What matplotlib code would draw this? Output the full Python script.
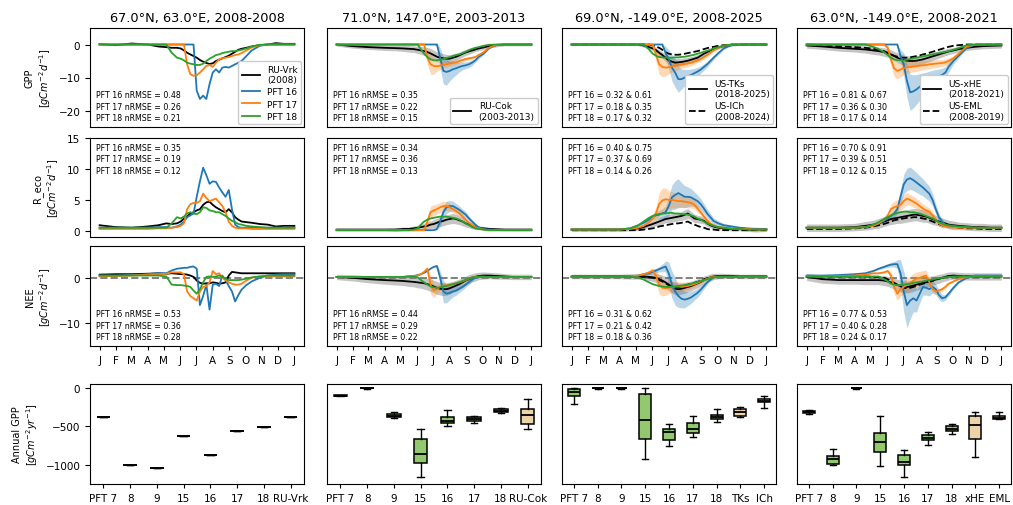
import numpy as np
import matplotlib.pyplot as plt

doy = [0, 30, 60, 90, 110, 125, 135, 145, 152, 158, 164, 170, 176, 182, 188,
       194, 200, 206, 212, 218, 224, 230, 236, 242, 248, 254, 260, 266, 275, 285,
       300, 315, 330, 345, 365]

month_start = [0, 31, 59, 90, 120, 151, 181, 212, 243, 273, 304, 334, 365]
month_lbl = ['J', 'F', 'M', 'A', 'M', 'J', 'J', 'A', 'S', 'O', 'N', 'D', 'J']

titles = ['67.0°N, 63.0°E, 2008-2008', '71.0°N, 147.0°E, 2003-2013',
          '69.0°N, -149.0°E, 2008-2025', '63.0°N, -149.0°E, 2008-2021']

# ---- column 1: RU-Vrk ----
gpp_c1_obs = [0.1, -0.2, 0.3, 0.0, -0.6, -0.8, -1.0, -1.0, -1.2, -1.8, -2.5, -3.0, -3.5, -4.0, -4.7,
              -5.2, -5.6, -5.9, -5.7, -5.0, -4.6, -4.2, -3.8, -3.4, -2.8, -2.2, -1.6, -1.3, -1.0, -0.6,
              -0.2, 0.0, 0.4, 0.2, 0.2]
gpp_c1_p16 = [0, 0, 0, 0, 0, 0, 0, 0, 0, 0, 0, 0, 0, -14.0, -16.5,
              -15.5, -16.5, -12.0, -8.5, -7.5, -8.5, -7.0, -6.8, -7.0, -6.5, -6.0, -5.5, -5.0, -3.5, -1.8,
              -0.4, 0, 0, 0, 0]
gpp_c1_p17 = [0, 0, 0, 0, 0, 0, 0, 0, 0, 0, -6.0, -9.0, -9.5, -9.3, -8.5,
              -7.5, -6.5, -6.2, -6.8, -5.5, -4.5, -4.2, -4.0, -3.8, -3.5, -3.2, -3.0, -2.6, -1.8, -0.9,
              -0.2, 0, 0, 0, 0]
gpp_c1_p18 = [0, 0, 0, 0, 0, 0, -2.5, -4.0, -4.3, -4.8, -5.5, -5.8, -6.0, -6.2, -6.2,
              -5.8, -5.0, -4.3, -3.8, -3.2, -3.0, -2.6, -2.4, -2.2, -2.0, -2.0, -1.8, -1.6, -1.2, -0.6,
              -0.1, 0, 0, 0, 0]

reco_c1_obs = [0.9, 0.6, 0.5, 0.7, 0.9, 1.2, 1.1, 1.2, 1.5, 2.0, 2.3, 2.8, 3.0, 3.3, 3.5,
               4.2, 4.6, 4.7, 4.2, 3.8, 3.5, 3.2, 3.0, 3.5, 3.0, 2.2, 1.8, 1.5, 1.4, 1.3,
               1.1, 1.0, 0.7, 0.8, 0.8]
reco_c1_p16 = [0.5, 0.5, 0.5, 0.5, 0.6, 0.6, 0.5, 0.7, 1.0, 1.5, 2.2, 2.5, 2.8, 5.5, 8.0,
               10.2, 9.0, 7.6, 8.0, 7.9, 7.0, 6.2, 5.5, 6.6, 3.5, 1.0, 0.6, 0.5, 0.5, 0.5,
               0.5, 0.5, 0.5, 0.5, 0.5]
reco_c1_p17 = [0.3, 0.3, 0.3, 0.3, 0.4, 0.4, 0.5, 0.6, 0.8, 1.2, 3.5, 4.3, 4.5, 4.5, 4.8,
               6.0, 5.3, 4.8, 5.0, 5.2, 4.6, 4.0, 3.0, 1.5, 0.8, 0.5, 0.4, 0.4, 0.4, 0.3,
               0.3, 0.3, 0.3, 0.3, 0.3]
reco_c1_p18 = [0.5, 0.5, 0.5, 0.5, 0.5, 0.5, 1.2, 2.2, 2.0, 2.3, 2.8, 3.0, 2.8, 2.7, 3.0,
               3.8, 3.7, 3.3, 3.2, 3.0, 3.0, 2.7, 2.4, 2.0, 1.6, 1.4, 1.1, 1.0, 0.8, 0.7,
               0.6, 0.5, 0.5, 0.5, 0.5]

nee_c1_obs = [0.7, 0.8, 0.8, 0.9, 1.0, 0.9, 1.0, 0.9, 0.8, 0.8, 0.7, 0.5, 0.2, -0.6, -1.1,
              -1.3, -1.2, -1.2, -1.0, -1.1, -1.3, -1.2, -1.0, 0.5, 1.3, 1.2, 1.1, 1.0, 1.0, 1.0,
              1.0, 1.0, 1.0, 1.0, 1.0]
nee_c1_p16 = [0.5, 0.5, 0.6, 0.8, 1.0, 1.0, 1.6, 2.0, 2.1, 2.2, 2.2, 2.4, 2.5, 2.0, -6.0,
              -4.0, -1.5, -7.0, -1.5, -1.3, -1.8, 0.5, -0.5, -1.8, -3.0, -5.2, -3.8, -2.6, -1.6, -0.8,
              0.0, 0.5, 0.7, 0.8, 0.8]
nee_c1_p17 = [0.3, 0.4, 0.5, 0.7, 0.8, 0.9, 1.2, 1.2, 1.2, 0.8, -3.0, -4.0, -4.5, -5.0, -3.0,
              -2.0, -1.8, -1.0, 1.5, 0.8, 1.0, 0.0, -0.5, -1.0, -1.3, -1.5, -1.5, -1.3, -0.6, 0.0,
              0.3, 0.3, 0.3, 0.3, 0.3]
nee_c1_p18 = [0.5, 0.5, 0.5, 0.5, 0.5, 0.3, -1.5, -1.6, -1.6, -1.7, -1.8, -2.0, -2.8, -3.5, -2.5,
              -1.0, 0.2, 0.3, 0.2, 0.3, 0.5, 0.2, -0.2, -0.5, -0.5, -0.5, -0.5, -0.4, -0.2, 0.1,
              0.3, 0.5, 0.5, 0.5, 0.5]

# ---- column 2: RU-Cok ----
gpp_c2_obs = [0.0, -0.5, -0.8, -1.0, -1.1, -1.2, -1.3, -1.4, -1.6, -1.8, -2.0, -2.3, -2.7, -3.2, -3.7,
              -4.0, -4.2, -4.3, -4.3, -4.0, -3.7, -3.3, -2.8, -2.4, -2.1, -1.8, -1.5, -1.2, -0.9, -0.5,
              -0.2, 0.0, 0.0, 0.0, 0.0]
gpp_c2_obs_sd = [0.5, 0.6, 0.7, 0.8, 0.8, 0.9, 1.0, 1.0, 1.1, 1.2, 1.3, 1.4, 1.5, 1.5, 1.5,
                 1.5, 1.4, 1.3, 1.2, 1.2, 1.1, 1.0, 1.0, 0.9, 0.9, 0.8, 0.7, 0.7, 0.6, 0.5,
                 0.5, 0.4, 0.4, 0.4, 0.4]
gpp_c2_p16 = [0, 0, 0, 0, 0, 0, 0, 0, 0, 0, 0, 0, 0, 0, 0,
              -4.0, -8.0, -8.3, -8.0, -7.5, -7.2, -6.8, -6.5, -6.3, -6.0, -5.5, -4.8, -3.8, -2.8, -1.2,
              -0.1, 0, 0, 0, 0]
gpp_c2_p16_sd = [0, 0, 0, 0, 0, 0, 0, 0, 0, 0, 0, 0, 0, 0, 0.5,
                 3.0, 4.0, 4.0, 3.0, 2.5, 2.0, 1.5, 1.2, 1.0, 1.0, 0.8, 0.6, 0.5, 0.4, 0.2,
                 0, 0, 0, 0, 0]
gpp_c2_p17 = [0, 0, 0, 0, 0, 0, 0, 0, 0, 0, 0, -4.0, -6.0, -6.5, -6.6,
              -6.4, -6.2, -6.0, -5.8, -5.6, -5.4, -5.0, -4.7, -4.4, -4.2, -4.0, -3.8, -3.2, -2.4, -1.0,
              -0.1, 0, 0, 0, 0]
gpp_c2_p17_sd = [0, 0, 0, 0, 0, 0, 0, 0, 0, 0, 0, 2.0, 3.0, 2.5, 1.5,
                 1.2, 1.0, 0.9, 0.8, 0.8, 0.7, 0.6, 0.6, 0.5, 0.5, 0.4, 0.4, 0.3, 0.3, 0.2,
                 0, 0, 0, 0, 0]
gpp_c2_p18 = [0, 0, 0, 0, 0, 0, 0, 0, 0, -1.5, -2.8, -3.8, -4.5, -4.8, -4.8,
              -4.6, -4.4, -4.1, -3.8, -3.5, -3.2, -3.0, -2.6, -2.2, -1.7, -1.3, -1.0, -0.8, -0.4, -0.1,
              0, 0, 0, 0, 0]

reco_c2_obs = [0.2, 0.2, 0.2, 0.2, 0.2, 0.3, 0.3, 0.4, 0.5, 0.6, 0.7, 0.8, 1.0, 1.1, 1.3,
               1.5, 1.6, 1.8, 1.9, 2.0, 1.9, 1.7, 1.5, 1.2, 1.0, 0.8, 0.6, 0.5, 0.4, 0.3,
               0.25, 0.2, 0.2, 0.2, 0.2]
reco_c2_obs_sd = [0.2, 0.2, 0.2, 0.2, 0.3, 0.3, 0.3, 0.4, 0.4, 0.5, 0.5, 0.6, 0.6, 0.7, 0.7,
                  0.8, 0.8, 0.8, 0.8, 0.8, 0.8, 0.7, 0.7, 0.6, 0.5, 0.5, 0.4, 0.3, 0.3, 0.3,
                  0.2, 0.2, 0.2, 0.2, 0.2]
reco_c2_p16 = [0.1, 0.1, 0.1, 0.1, 0.1, 0.1, 0.1, 0.1, 0.1, 0.1, 0.1, 0.1, 0.1, 0.1, 0.3,
               1.5, 3.0, 3.8, 4.0, 4.0, 3.7, 3.4, 3.0, 2.6, 2.0, 1.5, 1.0, 0.6, 0.3, 0.2,
               0.1, 0.1, 0.1, 0.1, 0.1]
reco_c2_p16_sd = [0, 0, 0, 0, 0, 0, 0, 0, 0, 0, 0, 0, 0, 0, 0.2,
                  0.8, 1.0, 1.0, 0.9, 0.8, 0.7, 0.6, 0.5, 0.5, 0.4, 0.3, 0.2, 0.1, 0.1, 0,
                  0, 0, 0, 0, 0]
reco_c2_p17 = [0.1, 0.1, 0.1, 0.1, 0.1, 0.1, 0.1, 0.1, 0.1, 0.1, 0.1, 1.5, 3.0, 3.3, 3.5,
               3.8, 4.0, 4.0, 3.8, 3.5, 3.2, 2.8, 2.3, 1.8, 1.3, 0.9, 0.6, 0.4, 0.2, 0.1,
               0.1, 0.1, 0.1, 0.1, 0.1]
reco_c2_p17_sd = [0, 0, 0, 0, 0, 0, 0, 0, 0, 0, 0, 0.8, 1.0, 0.9, 0.8,
                  0.8, 0.8, 0.7, 0.6, 0.6, 0.5, 0.5, 0.4, 0.3, 0.3, 0.2, 0.1, 0.1, 0, 0,
                  0, 0, 0, 0, 0]
reco_c2_p18 = [0.1, 0.1, 0.1, 0.1, 0.1, 0.1, 0.1, 0.2, 0.4, 1.0, 1.5, 1.8, 2.0, 2.1, 2.2,
               2.3, 2.3, 2.3, 2.2, 2.1, 2.0, 1.8, 1.5, 1.2, 0.9, 0.6, 0.4, 0.3, 0.2, 0.1,
               0.1, 0.1, 0.1, 0.1, 0.1]

nee_c2_obs = [0.2, 0.0, -0.3, -0.5, -0.6, -0.7, -0.8, -0.9, -1.0, -1.1, -1.2, -1.4, -1.6, -1.9, -2.2,
              -2.4, -2.5, -2.5, -2.3, -2.0, -1.7, -1.4, -1.0, -0.6, -0.3, 0.0, 0.2, 0.4, 0.5, 0.5,
              0.4, 0.3, 0.2, 0.2, 0.2]
nee_c2_obs_sd = [0.6, 0.7, 0.8, 0.9, 1.0, 1.0, 1.1, 1.1, 1.2, 1.2, 1.3, 1.3, 1.4, 1.4, 1.4,
                 1.4, 1.4, 1.3, 1.3, 1.2, 1.2, 1.1, 1.1, 1.0, 1.0, 0.9, 0.9, 0.8, 0.8, 0.7,
                 0.7, 0.6, 0.6, 0.6, 0.6]
nee_c2_p16 = [0.2, 0.2, 0.2, 0.2, 0.2, 0.2, 0.3, 0.4, 0.6, 0.8, 1.1, 1.5, 2.0, 2.4, 2.6,
              0.0, -3.0, -3.5, -3.3, -3.0, -2.8, -2.4, -2.0, -1.5, -0.9, -0.4, 0.1, 0.3, 0.3, 0.2,
              0.2, 0.2, 0.2, 0.2, 0.2]
nee_c2_p16_sd = [0, 0, 0, 0, 0, 0, 0, 0, 0, 0, 0, 0, 0, 0, 0.3,
                 1.5, 2.5, 2.0, 1.5, 1.2, 1.0, 0.8, 0.7, 0.6, 0.5, 0.4, 0.2, 0.1, 0, 0,
                 0, 0, 0, 0, 0]
nee_c2_p17 = [0.2, 0.2, 0.2, 0.2, 0.2, 0.2, 0.3, 0.4, 0.5, 0.8, 1.3, 2.0, -1.5, -2.8, -2.5,
              -2.0, -1.8, -1.6, -1.5, -1.4, -1.2, -1.0, -0.8, -0.5, -0.2, 0.1, 0.2, 0.2, 0.2, 0.2,
              0.2, 0.2, 0.2, 0.2, 0.2]
nee_c2_p17_sd = [0, 0, 0, 0, 0, 0, 0, 0, 0, 0, 0, 0.5, 2.0, 1.5, 1.0,
                 0.8, 0.7, 0.6, 0.5, 0.5, 0.4, 0.4, 0.3, 0.2, 0.1, 0, 0, 0, 0, 0,
                 0, 0, 0, 0, 0]
nee_c2_p18 = [0.2, 0.2, 0.2, 0.2, 0.2, 0.2, 0.3, 0.3, 0.1, -0.5, -1.0, -1.5, -1.9, -2.1, -2.2,
              -2.1, -1.9, -1.8, -1.6, -1.4, -1.2, -1.0, -0.7, -0.4, -0.1, 0.1, 0.2, 0.2, 0.2, 0.2,
              0.2, 0.2, 0.2, 0.2, 0.2]

# ---- column 3: US-TKs (solid) and US-ICh (dashed) ----
gpp_c3_obs = [0, 0, 0, 0, 0, 0, -0.3, -0.8, -1.2, -1.7, -2.5, -3.2, -4.0, -4.8, -5.2,
              -5.5, -5.4, -5.3, -5.1, -4.9, -4.6, -4.3, -4.0, -3.4, -2.8, -2.3, -1.8, -1.3, -0.9, -0.5,
              -0.2, 0, 0, 0, 0]
gpp_c3_obs2 = [0, 0, 0, 0, 0, 0, 0, 0, -0.3, -0.6, -1.0, -1.6, -2.3, -2.8, -3.0,
               -3.1, -3.1, -3.0, -2.8, -2.6, -2.4, -2.2, -2.0, -1.7, -1.4, -1.1, -0.9, -0.7, -0.4, -0.2,
               0, 0, 0, 0, 0]
gpp_c3_obs_sd = [0.3, 0.3, 0.3, 0.3, 0.3, 0.4, 0.5, 0.6, 0.7, 0.8, 0.9, 1.0, 1.1, 1.2, 1.2,
                 1.2, 1.2, 1.1, 1.1, 1.0, 1.0, 0.9, 0.9, 0.8, 0.8, 0.7, 0.6, 0.5, 0.5, 0.4,
                 0.3, 0.3, 0.3, 0.3, 0.3]
gpp_c3_p16 = [0, 0, 0, 0, 0, 0, 0, 0, 0, 0, 0, 0, -2.5, -4.5, -7.0,
              -8.5, -10.5, -10.5, -10.0, -9.6, -9.2, -8.7, -8.2, -7.6, -6.8, -6.0, -5.0, -4.0, -2.6, -1.2,
              -0.1, 0, 0, 0, 0]
gpp_c3_p16_sd = [0, 0, 0, 0, 0, 0, 0, 0, 0, 0, 0, 0, 2.0, 3.0, 4.0,
                 4.5, 4.0, 3.0, 2.5, 2.0, 1.8, 1.5, 1.3, 1.1, 1.0, 0.8, 0.7, 0.6, 0.5, 0.3,
                 0, 0, 0, 0, 0]
gpp_c3_p17 = [0, 0, 0, 0, 0, 0, 0, 0, 0, -3.0, -6.0, -6.8, -7.0, -6.9, -6.6,
              -6.4, -6.2, -6.0, -5.9, -5.7, -5.5, -5.2, -4.8, -4.4, -3.8, -3.2, -2.5, -1.8, -1.0, -0.4,
              0, 0, 0, 0, 0]
gpp_c3_p17_sd = [0, 0, 0, 0, 0, 0, 0, 0, 0, 2.0, 3.0, 3.0, 2.5, 2.0, 1.8,
                 1.6, 1.4, 1.2, 1.1, 1.0, 0.9, 0.8, 0.7, 0.6, 0.6, 0.5, 0.4, 0.3, 0.2, 0.1,
                 0, 0, 0, 0, 0]
gpp_c3_p18 = [0, 0, 0, 0, 0, 0, 0, -1.5, -2.8, -3.4, -3.8, -3.9, -4.0, -4.0, -4.0,
              -3.9, -3.9, -3.8, -3.7, -3.5, -3.3, -3.1, -2.8, -2.5, -2.2, -1.9, -1.6, -1.2, -0.8, -0.3,
              0, 0, 0, 0, 0]

reco_c3_obs = [0.2, 0.2, 0.2, 0.2, 0.3, 0.4, 0.6, 0.9, 1.1, 1.3, 1.5, 1.7, 1.9, 2.0, 2.1,
               2.2, 2.3, 2.4, 2.6, 2.8, 2.4, 2.0, 1.9, 1.8, 1.6, 1.2, 0.9, 0.7, 0.5, 0.4,
               0.3, 0.3, 0.2, 0.2, 0.2]
reco_c3_obs2 = [0.1, 0.1, 0.1, 0.1, 0.1, 0.1, 0.2, 0.3, 0.4, 0.5, 0.7, 0.8, 0.9, 1.0, 1.1,
                1.2, 1.2, 1.3, 1.4, 1.5, 1.2, 1.0, 0.8, 0.6, 0.5, 0.3, 0.2, 0.2, 0.1, 0.1,
                0.1, 0.1, 0.1, 0.1, 0.1]
reco_c3_obs_sd = [0.3, 0.3, 0.3, 0.3, 0.3, 0.3, 0.4, 0.4, 0.5, 0.5, 0.6, 0.6, 0.6, 0.7, 0.7,
                  0.7, 0.7, 0.7, 0.8, 0.8, 0.7, 0.7, 0.6, 0.6, 0.5, 0.5, 0.4, 0.4, 0.3, 0.3,
                  0.3, 0.3, 0.3, 0.4, 0.3]
reco_c3_p16 = [0.2, 0.2, 0.2, 0.2, 0.4, 0.9, 1.3, 1.8, 2.2, 2.5, 2.6, 2.8, 3.0, 4.0, 5.4,
               5.8, 6.1, 5.8, 5.5, 5.5, 5.4, 5.1, 4.8, 4.3, 3.6, 2.8, 2.2, 1.6, 1.2, 0.9,
               0.7, 0.5, 0.4, 0.3, 0.3]
reco_c3_p16_sd = [0, 0, 0, 0, 0.1, 0.2, 0.3, 0.4, 0.5, 0.6, 0.7, 0.8, 1.0, 1.5, 2.0,
                  2.3, 2.3, 2.0, 1.8, 1.6, 1.4, 1.2, 1.0, 0.9, 0.8, 0.7, 0.6, 0.5, 0.4, 0.3,
                  0.2, 0.1, 0.1, 0.1, 0]
reco_c3_p17 = [0.2, 0.2, 0.2, 0.2, 0.3, 0.5, 0.8, 1.4, 2.0, 2.8, 4.3, 4.9, 5.1, 5.0, 5.0,
               4.9, 4.8, 4.8, 4.7, 4.6, 4.5, 4.2, 3.6, 3.0, 2.3, 1.7, 1.2, 0.9, 0.6, 0.5,
               0.4, 0.3, 0.3, 0.2, 0.2]
reco_c3_p17_sd = [0, 0, 0, 0, 0, 0.1, 0.2, 0.4, 0.6, 1.0, 1.8, 2.0, 1.8, 1.5, 1.3,
                  1.2, 1.1, 1.0, 0.9, 0.9, 0.8, 0.7, 0.6, 0.5, 0.4, 0.3, 0.2, 0.2, 0.1, 0.1,
                  0, 0, 0, 0, 0]
reco_c3_p18 = [0.2, 0.2, 0.2, 0.2, 0.4, 0.9, 1.5, 2.1, 2.4, 2.6, 2.7, 2.8, 2.8, 2.9, 2.9,
               2.8, 2.8, 2.7, 2.7, 2.6, 2.5, 2.3, 2.0, 1.8, 1.5, 1.2, 1.0, 0.8, 0.6, 0.5,
               0.3, 0.3, 0.2, 0.2, 0.2]

nee_c3_obs = [0.3, 0.3, 0.3, 0.3, 0.3, 0.3, 0.3, 0.2, 0.1, 0.0, -0.3, -0.6, -1.0, -1.5, -2.0,
              -2.4, -2.5, -2.4, -2.2, -2.0, -1.8, -1.5, -1.2, -0.9, -0.5, -0.2, 0.1, 0.3, 0.4, 0.4,
              0.4, 0.3, 0.3, 0.3, 0.3]
nee_c3_obs2 = [0.2, 0.2, 0.2, 0.2, 0.2, 0.2, 0.2, 0.1, 0.0, -0.2, -0.5, -0.8, -1.2, -1.6, -1.9,
               -2.0, -2.0, -1.9, -1.7, -1.5, -1.3, -1.1, -0.9, -0.6, -0.3, -0.1, 0.1, 0.2, 0.2, 0.2,
               0.2, 0.2, 0.2, 0.2, 0.2]
nee_c3_obs_sd = [0.5, 0.5, 0.5, 0.5, 0.6, 0.6, 0.7, 0.8, 0.9, 1.0, 1.1, 1.2, 1.3, 1.3, 1.3,
                 1.3, 1.3, 1.2, 1.2, 1.1, 1.1, 1.0, 1.0, 0.9, 0.9, 0.8, 0.8, 0.7, 0.6, 0.6,
                 0.5, 0.5, 0.5, 0.5, 0.5]
nee_c3_p16 = [0.2, 0.2, 0.2, 0.2, 0.3, 0.5, 0.8, 1.0, 1.3, 1.6, 1.9, 2.2, 2.5, 1.0, -1.5,
              -3.0, -4.0, -4.6, -4.8, -4.6, -4.3, -3.8, -3.3, -2.6, -1.8, -1.0, -0.4, 0.1, 0.3, 0.3,
              0.3, 0.3, 0.3, 0.3, 0.3]
nee_c3_p16_sd = [0, 0, 0, 0, 0, 0.1, 0.2, 0.3, 0.4, 0.5, 0.6, 0.8, 1.2, 2.5, 3.0,
                 3.0, 2.5, 2.0, 1.8, 1.5, 1.3, 1.1, 1.0, 0.8, 0.6, 0.5, 0.3, 0.2, 0.1, 0,
                 0, 0, 0, 0, 0]
nee_c3_p17 = [0.2, 0.2, 0.2, 0.2, 0.3, 0.5, 0.8, 1.2, 1.6, 0.5, -1.5, -2.2, -2.3, -2.2, -2.0,
              -1.9, -1.9, -1.9, -1.9, -1.8, -1.6, -1.4, -1.1, -0.8, -0.5, -0.2, 0.1, 0.2, 0.2, 0.2,
              0.2, 0.2, 0.2, 0.2, 0.2]
nee_c3_p17_sd = [0, 0, 0, 0, 0, 0.1, 0.2, 0.4, 0.6, 1.5, 2.0, 1.8, 1.5, 1.3, 1.2,
                 1.1, 1.0, 1.0, 0.9, 0.8, 0.7, 0.6, 0.5, 0.4, 0.3, 0.2, 0.1, 0.1, 0, 0,
                 0, 0, 0, 0, 0]
nee_c3_p18 = [0.2, 0.2, 0.2, 0.2, 0.2, 0.1, -0.4, -1.0, -1.4, -1.6, -1.8, -1.9, -2.0, -2.0, -2.0,
              -1.9, -1.8, -1.7, -1.6, -1.5, -1.3, -1.1, -0.9, -0.7, -0.5, -0.3, -0.1, 0.1, 0.2, 0.2,
              0.2, 0.2, 0.2, 0.2, 0.2]

# ---- column 4: US-xHE (solid) and US-EML (dashed) ----
gpp_c4_obs = [-0.3, -0.6, -1.0, -1.3, -1.5, -1.8, -2.0, -2.3, -2.6, -3.0, -3.5, -4.0, -4.4, -4.7, -4.9,
              -5.0, -5.0, -4.9, -4.7, -4.5, -4.2, -3.9, -3.6, -3.3, -3.0, -2.7, -2.4, -2.1, -1.8, -1.4,
              -1.0, -0.7, -0.5, -0.4, -0.3]
gpp_c4_obs2 = [0.0, -0.3, -0.5, -0.8, -1.0, -1.3, -1.6, -2.0, -2.5, -3.0, -3.4, -3.7, -3.9, -4.0, -4.0,
               -3.9, -3.7, -3.5, -3.3, -3.0, -2.8, -2.5, -2.2, -1.9, -1.6, -1.3, -1.0, -0.7, -0.4, -0.2,
               0.0, 0.0, 0.0, 0.0, 0.0]
gpp_c4_obs_sd = [0.8, 0.9, 1.0, 1.0, 1.1, 1.2, 1.2, 1.3, 1.3, 1.4, 1.4, 1.5, 1.5, 1.5, 1.5,
                 1.5, 1.5, 1.4, 1.4, 1.4, 1.3, 1.3, 1.2, 1.2, 1.1, 1.1, 1.0, 1.0, 0.9, 0.9,
                 0.8, 0.8, 0.8, 0.8, 0.8]
gpp_c4_p16 = [0, 0, 0, 0, 0, 0, 0, 0, 0, 0, 0, 0, -3.5, -6.0, -11.0,
              -14.5, -14.2, -13.6, -12.8, -12.1, -11.6, -11.1, -10.6, -10.1, -9.6, -9.2, -8.5, -6.8, -5.0, -3.4,
              -1.0, -0.1, 0, 0, 0]
gpp_c4_p16_sd = [0, 0, 0, 0, 0, 0, 0, 0, 0, 0, 0, 0, 2.0, 3.5, 5.0,
                 5.5, 5.0, 4.5, 4.0, 3.5, 3.2, 3.0, 2.8, 2.5, 2.2, 2.0, 1.8, 1.5, 1.0, 0.6,
                 0.2, 0, 0, 0, 0]
gpp_c4_p17 = [0, 0, 0, 0, 0, 0, 0, 0, -1.0, -4.5, -7.2, -8.0, -7.6, -7.1, -6.9,
              -6.8, -6.7, -6.6, -6.4, -6.3, -6.2, -6.0, -5.9, -5.8, -5.7, -5.6, -5.4, -5.0, -4.2, -2.8,
              -0.6, 0, 0, 0, 0]
gpp_c4_p17_sd = [0, 0, 0, 0, 0, 0, 0, 0, 1.0, 2.0, 2.5, 2.5, 2.2, 2.0, 1.8,
                 1.7, 1.6, 1.5, 1.5, 1.4, 1.3, 1.3, 1.2, 1.2, 1.1, 1.0, 1.0, 0.9, 0.8, 0.6,
                 0.2, 0, 0, 0, 0]
gpp_c4_p18 = [0, 0, 0, 0, 0, -0.7, -1.4, -2.3, -3.2, -4.0, -4.5, -4.8, -4.8, -4.8, -4.6,
              -4.4, -4.2, -4.0, -3.8, -3.6, -3.4, -3.2, -3.0, -2.8, -2.6, -2.4, -2.2, -2.0, -1.6, -1.1,
              -0.2, 0, 0, 0, 0]

reco_c4_obs = [0.5, 0.5, 0.5, 0.6, 0.8, 1.0, 1.2, 1.5, 1.7, 1.9, 2.0, 2.1, 2.2, 2.3, 2.4,
               2.5, 2.6, 2.6, 2.5, 2.4, 2.3, 2.1, 1.9, 1.7, 1.5, 1.3, 1.2, 1.0, 0.9, 0.8,
               0.7, 0.6, 0.6, 0.5, 0.5]
reco_c4_obs2 = [0.3, 0.3, 0.3, 0.4, 0.5, 0.7, 0.9, 1.1, 1.3, 1.5, 1.7, 1.8, 1.9, 2.0, 2.1,
                2.1, 2.2, 2.2, 2.1, 2.0, 1.9, 1.7, 1.5, 1.3, 1.1, 0.9, 0.8, 0.7, 0.6, 0.5,
                0.4, 0.4, 0.3, 0.3, 0.3]
reco_c4_obs_sd = [0.6, 0.6, 0.6, 0.6, 0.7, 0.7, 0.8, 0.8, 0.8, 0.9, 0.9, 0.9, 1.0, 1.0, 1.0,
                  1.0, 1.0, 1.0, 1.0, 1.0, 0.9, 0.9, 0.9, 0.8, 0.8, 0.8, 0.7, 0.7, 0.7, 0.6,
                  0.6, 0.6, 0.6, 0.6, 0.6]
reco_c4_p16 = [0.5, 0.5, 0.5, 0.5, 0.6, 0.9, 1.2, 1.6, 2.0, 2.4, 2.8, 3.5, 5.5, 7.5, 8.3,
               8.5, 8.2, 7.8, 7.4, 7.0, 6.5, 6.0, 5.0, 3.5, 2.2, 1.5, 1.0, 0.8, 0.7, 0.6,
               0.6, 0.5, 0.5, 0.5, 0.5]
reco_c4_p16_sd = [0, 0, 0, 0, 0, 0.1, 0.2, 0.3, 0.4, 0.5, 0.6, 0.8, 1.2, 1.6, 1.8,
                  1.8, 1.7, 1.6, 1.5, 1.4, 1.3, 1.2, 1.0, 0.8, 0.6, 0.4, 0.3, 0.2, 0.1, 0.1,
                  0, 0, 0, 0, 0]
reco_c4_p17 = [0.5, 0.5, 0.5, 0.5, 0.6, 0.8, 1.2, 1.8, 2.5, 3.5, 3.8, 4.0, 4.2, 4.8, 5.2,
               5.0, 4.7, 4.4, 4.0, 3.6, 3.3, 3.1, 2.5, 1.8, 1.2, 0.9, 0.7, 0.6, 0.5, 0.5,
               0.5, 0.5, 0.5, 0.5, 0.5]
reco_c4_p17_sd = [0, 0, 0, 0, 0, 0.1, 0.2, 0.3, 0.5, 0.8, 1.0, 1.0, 1.0, 1.0, 1.0,
                  0.9, 0.9, 0.8, 0.8, 0.7, 0.7, 0.6, 0.5, 0.4, 0.3, 0.2, 0.1, 0.1, 0, 0,
                  0, 0, 0, 0, 0]
reco_c4_p18 = [0.5, 0.5, 0.5, 0.5, 0.6, 1.0, 1.4, 1.9, 2.2, 2.5, 2.7, 2.9, 3.0, 3.1, 3.1,
               3.0, 3.0, 2.9, 2.8, 2.6, 2.4, 2.2, 2.0, 1.7, 1.4, 1.2, 1.0, 0.9, 0.8, 0.7,
               0.6, 0.5, 0.5, 0.5, 0.5]

nee_c4_obs = [0.2, -0.3, -0.5, -0.5, -0.5, -0.5, -0.5, -0.6, -0.8, -1.0, -1.3, -1.6, -1.8, -2.0, -2.0,
              -1.9, -1.7, -1.5, -1.3, -1.1, -1.0, -0.8, -0.6, -0.4, -0.2, 0.0, 0.2, 0.4, 0.5, 0.4,
              0.3, 0.3, 0.3, 0.3, 0.3]
nee_c4_obs2 = [0.3, 0.3, 0.3, 0.3, 0.3, 0.2, 0.1, 0.0, -0.3, -0.7, -1.1, -1.5, -1.9, -2.2, -2.3,
               -2.2, -2.0, -1.8, -1.5, -1.3, -1.1, -0.9, -0.7, -0.4, -0.2, 0.0, 0.2, 0.3, 0.3, 0.3,
               0.3, 0.3, 0.3, 0.3, 0.3]
nee_c4_obs_sd = [0.8, 0.9, 0.9, 0.9, 1.0, 1.0, 1.0, 1.1, 1.1, 1.2, 1.2, 1.3, 1.3, 1.3, 1.3,
                 1.3, 1.3, 1.2, 1.2, 1.2, 1.1, 1.1, 1.0, 1.0, 1.0, 0.9, 0.9, 0.9, 0.8, 0.8,
                 0.8, 0.8, 0.8, 0.8, 0.8]
nee_c4_p16 = [0.5, 0.5, 0.6, 0.8, 1.0, 1.5, 2.0, 2.4, 2.7, 2.9, 3.0, 3.0, 1.0, -3.0, -6.0,
              -5.0, -4.5, -5.0, -3.5, -2.0, -2.2, -2.5, -2.0, -2.5, -3.8, -4.5, -4.3, -3.5, -2.2, -1.0,
              0.0, 0.5, 0.5, 0.5, 0.5]
nee_c4_p16_sd = [0, 0, 0, 0, 0, 0.1, 0.2, 0.3, 0.4, 0.5, 0.6, 1.0, 3.0, 4.5, 5.0,
                 4.0, 3.0, 2.5, 2.0, 1.8, 1.6, 1.5, 1.3, 1.2, 1.0, 0.8, 0.6, 0.5, 0.3, 0.2,
                 0, 0, 0, 0, 0]
nee_c4_p17 = [0.3, 0.3, 0.4, 0.5, 0.7, 1.0, 1.0, 1.2, 1.5, 0.5, -2.0, -3.5, -2.5, -2.0, -1.6,
              -1.2, -0.6, -0.2, 0.0, 0.3, 0.5, -1.0, -2.5, -3.0, -2.8, -2.5, -2.0, -1.3, -0.8, -0.3,
              0.2, 0.3, 0.3, 0.3, 0.3]
nee_c4_p17_sd = [0, 0, 0, 0, 0, 0.1, 0.1, 0.2, 0.3, 0.8, 1.5, 1.5, 1.5, 1.5, 1.5,
                 1.5, 1.5, 1.5, 1.4, 1.3, 1.2, 1.0, 0.8, 0.6, 0.5, 0.4, 0.3, 0.2, 0.1, 0,
                 0, 0, 0, 0, 0]
nee_c4_p18 = [0.3, 0.3, 0.3, 0.3, 0.3, 0.3, 0.3, -0.3, -0.8, -1.3, -1.5, -1.6, -1.6, -1.5, -1.4,
              -1.3, -1.1, -1.0, -0.9, -0.8, -0.6, -0.5, -0.4, -0.2, -0.1, 0.0, 0.1, 0.2, 0.3, 0.3,
              0.3, 0.3, 0.3, 0.3, 0.3]

# ---- annual GPP boxplots (median, box low, box high, whisker low, whisker high) ----
box_lbl_c1 = ['PFT 7', '8', '9', '15', '16', '17', '18', 'RU-Vrk']
box_lbl_c2 = ['PFT 7', '8', '9', '15', '16', '17', '18', 'RU-Cok']
box_lbl_c3 = ['PFT 7', '8', '9', '15', '16', '17', '18', 'TKs', 'ICh']
box_lbl_c4 = ['PFT 7', '8', '9', '15', '16', '17', '18', 'xHE', 'EML']

ann_c1 = [-380, -1000, -1040, -620, -870, -555, -510, -375]

ann_c2_med = [-100, -5, -365, -860, -425, -405, -295, -350]
ann_c2_q1 = [-105, -8, -385, -975, -460, -425, -310, -470]
ann_c2_q3 = [-95, -3, -345, -665, -385, -380, -280, -280]
ann_c2_lo = [-110, -10, -390, -1155, -500, -460, -330, -530]
ann_c2_hi = [-90, 0, -315, -540, -285, -370, -260, -140]

ann_c3_med = [-55, -5, -5, -415, -575, -540, -380, -320, -165]
ann_c3_q1 = [-100, -8, -8, -665, -675, -585, -410, -360, -190]
ann_c3_q3 = [-20, -3, -3, -80, -540, -460, -355, -280, -140]
ann_c3_lo = [-215, -10, -10, -920, -755, -635, -445, -385, -260]
ann_c3_hi = [-5, 0, 0, -5, -470, -370, -280, -255, -100]

ann_c4_med = [-310, -930, -5, -710, -970, -650, -530, -485, -390]
ann_c4_q1 = [-330, -985, -8, -840, -1005, -680, -560, -665, -410]
ann_c4_q3 = [-295, -890, -3, -590, -875, -615, -500, -370, -360]
ann_c4_lo = [-335, -1005, -10, -1010, -1155, -745, -600, -895, -410]
ann_c4_hi = [-290, -800, 0, -370, -810, -575, -475, -320, -315]

# nRMSE text blocks
txt_c1 = [['PFT 16 nRMSE = 0.48', 'PFT 17 nRMSE = 0.26', 'PFT 18 nRMSE = 0.21'],
          ['PFT 16 nRMSE = 0.35', 'PFT 17 nRMSE = 0.19', 'PFT 18 nRMSE = 0.12'],
          ['PFT 16 nRMSE = 0.53', 'PFT 17 nRMSE = 0.36', 'PFT 18 nRMSE = 0.28']]
txt_c2 = [['PFT 16 nRMSE = 0.35', 'PFT 17 nRMSE = 0.22', 'PFT 18 nRMSE = 0.15'],
          ['PFT 16 nRMSE = 0.34', 'PFT 17 nRMSE = 0.36', 'PFT 18 nRMSE = 0.13'],
          ['PFT 16 nRMSE = 0.44', 'PFT 17 nRMSE = 0.29', 'PFT 18 nRMSE = 0.22']]
txt_c3 = [['PFT 16 = 0.32 & 0.61', 'PFT 17 = 0.18 & 0.35', 'PFT 18 = 0.17 & 0.32'],
          ['PFT 16 = 0.40 & 0.75', 'PFT 17 = 0.37 & 0.69', 'PFT 18 = 0.14 & 0.26'],
          ['PFT 16 = 0.31 & 0.62', 'PFT 17 = 0.21 & 0.42', 'PFT 18 = 0.18 & 0.36']]
txt_c4 = [['PFT 16 = 0.81 & 0.67', 'PFT 17 = 0.36 & 0.30', 'PFT 18 = 0.17 & 0.14'],
          ['PFT 16 = 0.70 & 0.91', 'PFT 17 = 0.39 & 0.51', 'PFT 18 = 0.12 & 0.15'],
          ['PFT 16 = 0.77 & 0.53', 'PFT 17 = 0.40 & 0.28', 'PFT 18 = 0.24 & 0.17']]

obs_names = [['RU-Vrk\n(2008)'], ['RU-Cok\n(2003-2013)'],
             ['US-TKs\n(2018-2025)', 'US-ICh\n(2008-2024)'],
             ['US-xHE\n(2018-2021)', 'US-EML\n(2008-2019)']]

# series per column and row: (obs, obs2, obs_sd, p16, p17, p18, p16_sd, p17_sd)
cols = [
    [(gpp_c1_obs, None, None, gpp_c1_p16, gpp_c1_p17, gpp_c1_p18, None, None),
     (reco_c1_obs, None, None, reco_c1_p16, reco_c1_p17, reco_c1_p18, None, None),
     (nee_c1_obs, None, None, nee_c1_p16, nee_c1_p17, nee_c1_p18, None, None)],
    [(gpp_c2_obs, None, gpp_c2_obs_sd, gpp_c2_p16, gpp_c2_p17, gpp_c2_p18, gpp_c2_p16_sd, gpp_c2_p17_sd),
     (reco_c2_obs, None, reco_c2_obs_sd, reco_c2_p16, reco_c2_p17, reco_c2_p18, reco_c2_p16_sd, reco_c2_p17_sd),
     (nee_c2_obs, None, nee_c2_obs_sd, nee_c2_p16, nee_c2_p17, nee_c2_p18, nee_c2_p16_sd, nee_c2_p17_sd)],
    [(gpp_c3_obs, gpp_c3_obs2, gpp_c3_obs_sd, gpp_c3_p16, gpp_c3_p17, gpp_c3_p18, gpp_c3_p16_sd, gpp_c3_p17_sd),
     (reco_c3_obs, reco_c3_obs2, reco_c3_obs_sd, reco_c3_p16, reco_c3_p17, reco_c3_p18, reco_c3_p16_sd, reco_c3_p17_sd),
     (nee_c3_obs, nee_c3_obs2, nee_c3_obs_sd, nee_c3_p16, nee_c3_p17, nee_c3_p18, nee_c3_p16_sd, nee_c3_p17_sd)],
    [(gpp_c4_obs, gpp_c4_obs2, gpp_c4_obs_sd, gpp_c4_p16, gpp_c4_p17, gpp_c4_p18, gpp_c4_p16_sd, gpp_c4_p17_sd),
     (reco_c4_obs, reco_c4_obs2, reco_c4_obs_sd, reco_c4_p16, reco_c4_p17, reco_c4_p18, reco_c4_p16_sd, reco_c4_p17_sd),
     (nee_c4_obs, nee_c4_obs2, nee_c4_obs_sd, nee_c4_p16, nee_c4_p17, nee_c4_p18, nee_c4_p16_sd, nee_c4_p17_sd)],
]
texts = [txt_c1, txt_c2, txt_c3, txt_c4]

boxes = [
    (ann_c1, ann_c1, ann_c1, ann_c1, ann_c1, box_lbl_c1, 1),
    (ann_c2_med, ann_c2_q1, ann_c2_q3, ann_c2_lo, ann_c2_hi, box_lbl_c2, 1),
    (ann_c3_med, ann_c3_q1, ann_c3_q3, ann_c3_lo, ann_c3_hi, box_lbl_c3, 2),
    (ann_c4_med, ann_c4_q1, ann_c4_q3, ann_c4_lo, ann_c4_hi, box_lbl_c4, 2),
]

ylabels = ['GPP\n[$gCm^{-2}d^{-1}$]', 'R_eco\n[$gCm^{-2}d^{-1}$]',
           'NEE\n[$gCm^{-2}d^{-1}$]', 'Annual GPP\n[$gCm^{-2}yr^{-1}$]']
ylims = [(-25, 5), (-1, 15), (-15, 7), (-1250, 50)]
yticks = [[-20, -10, 0], [0, 5, 10, 15], [-10, 0], [-1000, -500, 0]]

# layout in pixels (figure 1013 x 506)
W, H = 1013., 506.
lefts = [90, 327, 562, 797]
tops = [29, 139, 247, 385]
heights = [99, 99, 100, 100]
aw = 214

green_box = '#93c96e'
tan_box = '#ecd3a9'

plt.rcParams['font.family'] = 'DejaVu Sans'
fig = plt.figure(figsize=(W / 100, H / 100), dpi=100)

x = np.array(doy)
for c in range(4):
    for r in range(4):
        ax = fig.add_axes([lefts[c] / W, 1 - (tops[r] + heights[r]) / H, aw / W, heights[r] / H])
        for s in ax.spines.values():
            s.set_linewidth(0.8)
        ax.set_ylim(*ylims[r])
        if r < 3:
            obs, obs2, obs_sd, p16, p17, p18, p16_sd, p17_sd = cols[c][r]
            if r == 2:
                ax.axhline(0, color='grey', ls='--', lw=1.4, zorder=0)
            # uncertainty bands
            if obs_sd is not None:
                ax.fill_between(x, np.array(obs) - np.array(obs_sd), np.array(obs) + np.array(obs_sd),
                                color='grey', alpha=0.45, lw=0)
                ax.fill_between(x, np.array(p16) - np.array(p16_sd), np.array(p16) + np.array(p16_sd),
                                color='C0', alpha=0.3, lw=0)
                ax.fill_between(x, np.array(p17) - np.array(p17_sd), np.array(p17) + np.array(p17_sd),
                                color='C1', alpha=0.3, lw=0)
            l_obs, = ax.plot(x, obs, color='k', lw=1.3)
            handles = [l_obs]
            if obs2 is not None:
                l_obs2, = ax.plot(x, obs2, color='k', lw=1.3, ls='--')
                handles.append(l_obs2)
            l16, = ax.plot(x, p16, color='C0', lw=1.3)
            l17, = ax.plot(x, p17, color='C1', lw=1.3)
            l18, = ax.plot(x, p18, color='C2', lw=1.3)
            ax.set_xlim(-18, 383)
            if r == 2:
                ax.set_xticks(month_start)
                ax.set_xticklabels(month_lbl, fontsize=7.5)
            else:
                ax.set_xticks([])
            # nRMSE text
            if r == 1:
                ax.text(0.03, 0.95, '\n'.join(texts[c][r]), transform=ax.transAxes,
                        fontsize=5.7, va='top', ha='left', linespacing=1.35)
            else:
                ax.text(0.03, 0.05, '\n'.join(texts[c][r]), transform=ax.transAxes,
                        fontsize=5.7, va='bottom', ha='left', linespacing=1.35)
            if r == 0:
                ax.set_title(titles[c], fontsize=9.3, pad=5)
                if c == 0:
                    ax.legend(handles + [l16, l17, l18], obs_names[c] + ['PFT 16', 'PFT 17', 'PFT 18'],
                              loc='lower right', fontsize=6.5, framealpha=1, borderaxespad=0.3,
                              labelspacing=0.35)
                else:
                    ax.legend(handles, obs_names[c], loc='lower right', fontsize=6.5, framealpha=1,
                              borderaxespad=0.3, labelspacing=0.35)
        else:
            med, q1, q3, lo, hi, lbl, n_obs = boxes[c]
            stats = []
            for i in range(len(med)):
                stats.append({'med': med[i], 'q1': q1[i], 'q3': q3[i],
                              'whislo': lo[i], 'whishi': hi[i], 'fliers': []})
            pos = list(range(1, len(med) + 1))
            bp = ax.bxp(stats, positions=pos, widths=0.5, patch_artist=True,
                        boxprops=dict(lw=1.1, edgecolor='k'),
                        medianprops=dict(color='k', lw=1.3),
                        whiskerprops=dict(lw=1.0), capprops=dict(lw=1.0))
            for i, b in enumerate(bp['boxes']):
                b.set_facecolor(tan_box if i >= len(med) - n_obs else green_box)
            ax.set_xlim(0.5, len(med) + 0.5)
            ax.set_xticks(pos)
            ax.set_xticklabels(lbl, fontsize=7.5)
        if c == 0:
            ax.set_yticks(yticks[r])
            ax.tick_params(axis='y', labelsize=7.5)
            ax.set_ylabel(ylabels[r], fontsize=7)
        else:
            ax.set_yticks([])
        ax.tick_params(axis='x', length=3)

fig.savefig('out.png', dpi=100)
